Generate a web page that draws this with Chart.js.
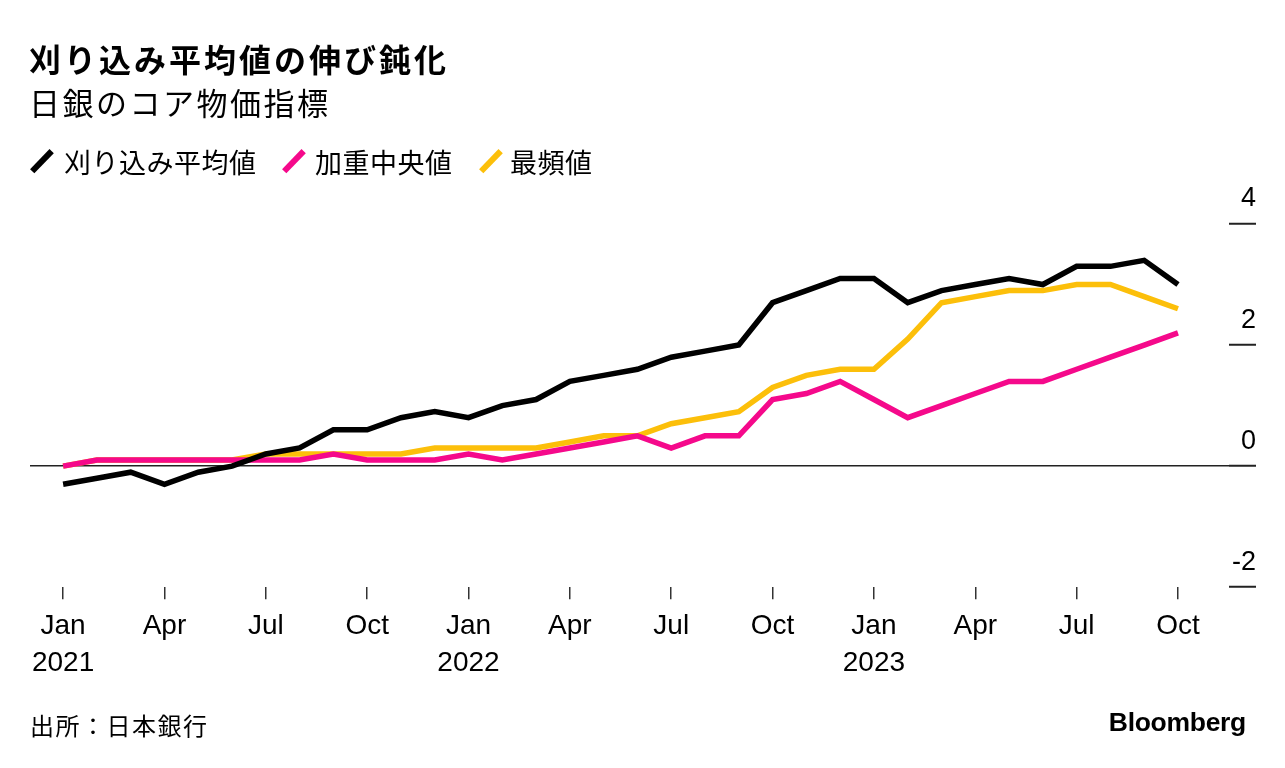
<!DOCTYPE html>
<html lang="ja">
<head>
<meta charset="utf-8">
<title>刈り込み平均値の伸び鈍化</title>
<script src="https://cdn.jsdelivr.net/npm/chart.js@4/dist/chart.umd.min.js"></script>
<style>
  html, body { margin: 0; padding: 0; background: #fff; overflow: hidden; }
  body { width: 1285px; height: 768px; position: relative; font-family: "Noto Sans CJK JP", sans-serif; color: #000; }
  #chart { position: absolute; left: 0; top: 0; }
  .txt { position: absolute; line-height: 1; white-space: nowrap; }
  .title { left: 29px; top: 42px; font-size: 32px; font-weight: bold; letter-spacing: 3px; }
  .subtitle { left: 29px; top: 86px; font-size: 31px; letter-spacing: 2.5px; }
  .legend { top: 148px; font-size: 27px; letter-spacing: 0.5px; }
  .mark { position: absolute; top: 147px; width: 5.5px; height: 28px; transform: rotate(44deg); }
  .source { left: 30px; top: 713px; font-size: 24px; letter-spacing: 1.5px; }
  .brand { right: 39px; top: 709px; font-family: "Liberation Sans", Arial, sans-serif; font-weight: bold; font-size: 26.5px; letter-spacing: -0.3px; }
</style>
</head>
<body>
<canvas id="chart" width="1285" height="768"></canvas>
<div class="txt title">刈り込み平均値の伸び鈍化</div>
<div class="txt subtitle">日銀のコア物価指標</div>
<div id="legend"></div>
<div class="txt source">出所：日本銀行</div>
<div class="txt brand">Bloomberg</div>
<script>
// months shown on the x axis, Jan 2021 - Oct 2023
const categories = [
  "2021-01", "2021-02", "2021-03", "2021-04", "2021-05", "2021-06",
  "2021-07", "2021-08", "2021-09", "2021-10", "2021-11", "2021-12",
  "2022-01", "2022-02", "2022-03", "2022-04", "2022-05", "2022-06",
  "2022-07", "2022-08", "2022-09", "2022-10", "2022-11", "2022-12",
  "2023-01", "2023-02", "2023-03", "2023-04", "2023-05", "2023-06",
  "2023-07", "2023-08", "2023-09", "2023-10"
];
const monthNames = ["Jan", "Feb", "Mar", "Apr", "May", "Jun", "Jul", "Aug", "Sep", "Oct", "Nov", "Dec"];
const tickIndexes = [0, 3, 6, 9, 12, 15, 18, 21, 24, 27, 30, 33];
const yTicks = [-2, 0, 2, 4];

const seriesNames = ["刈り込み平均値", "加重中央値", "最頻値"];
const seriesColors = ["#000000", "#f5098b", "#fcbf0a"];

// 刈り込み平均値
const trimmedMean = [-0.3, -0.2, -0.1, -0.3, -0.1, 0.0, 0.2, 0.3, 0.6, 0.6, 0.8, 0.9,
  0.8, 1.0, 1.1, 1.4, 1.5, 1.6, 1.8, 1.9, 2.0, 2.7, 2.9, 3.1,
  3.1, 2.7, 2.9, 3.0, 3.1, 3.0, 3.3, 3.3, 3.4, 3.0];
// 加重中央値
const weightedMedian = [0.0, 0.1, 0.1, 0.1, 0.1, 0.1, 0.1, 0.1, 0.2, 0.1, 0.1, 0.1,
  0.2, 0.1, 0.2, 0.3, 0.4, 0.5, 0.3, 0.5, 0.5, 1.1, 1.2, 1.4,
  1.1, 0.8, 1.0, 1.2, 1.4, 1.4, 1.6, 1.8, 2.0, 2.2];
// 最頻値
const mode = [0.0, 0.1, 0.1, 0.1, 0.1, 0.1, 0.2, 0.2, 0.2, 0.2, 0.2, 0.3,
  0.3, 0.3, 0.3, 0.4, 0.5, 0.5, 0.7, 0.8, 0.9, 1.3, 1.5, 1.6,
  1.6, 2.1, 2.7, 2.8, 2.9, 2.9, 3.0, 3.0, 2.8, 2.6];

const latin = '"Liberation Sans", "Noto Sans CJK JP", sans-serif';

// legend (html)
const legendLeft = [[39, 64], [290.5, 315], [488, 510]];
const legendEl = document.getElementById("legend");
seriesNames.forEach(function (name, i) {
  const m = document.createElement("div");
  m.className = "mark";
  m.style.left = legendLeft[i][0] + "px";
  m.style.background = seriesColors[i];
  legendEl.appendChild(m);
  const t = document.createElement("div");
  t.className = "txt legend";
  t.style.left = legendLeft[i][1] + "px";
  t.textContent = name;
  legendEl.appendChild(t);
});

function toPoints(values) {
  return values.map((v, i) => ({ x: i, y: v }));
}

const ctx = document.getElementById("chart").getContext("2d");
new Chart(ctx, {
  type: "line",
  data: {
    datasets: [trimmedMean, weightedMedian, mode].map((values, i) => ({
      label: seriesNames[i],
      data: toPoints(values),
      borderColor: seriesColors[i],
      backgroundColor: seriesColors[i],
      borderWidth: 5.5,
      pointRadius: 0,
      tension: 0,
      fill: false,
    })),
  },
  options: {
    responsive: false,
    animation: false,
    devicePixelRatio: 1,
    layout: { padding: { left: 30, right: 29, top: 224, bottom: 78 } },
    plugins: {
      legend: { display: false },
      title: { display: false },
      tooltip: { enabled: false },
    },
    scales: {
      x: {
        type: "linear",
        min: -0.98,
        max: 34.51,
        afterBuildTicks: function (scale) {
          scale.ticks = tickIndexes.map(v => ({ value: v }));
        },
        ticks: {
          autoSkip: false,
          maxRotation: 0,
          padding: 9,
          color: "#000",
          font: { family: latin, size: 28, lineHeight: 1.3 },
          callback: function (value) {
            const parts = categories[value].split("-");
            const name = monthNames[Number(parts[1]) - 1];
            return name === "Jan" ? [name, parts[0]] : name;
          },
        },
        grid: { drawOnChartArea: false, drawTicks: true, tickLength: 12, color: "#333", lineWidth: 1.5 },
        border: { display: false },
      },
      y: {
        position: "right",
        min: yTicks[0],
        max: yTicks[yTicks.length - 1],
        afterBuildTicks: function (scale) {
          scale.ticks = yTicks.map(v => ({ value: v }));
        },
        afterFit: function (scale) {
          scale.width = 27;
        },
        ticks: {
          mirror: true,
          padding: 27,
          labelOffset: -25,
          color: "#000",
          font: { family: latin, size: 27 },
        },
        grid: {
          color: c => (c.tick && c.tick.value === 0 ? "#222" : "rgba(0,0,0,0)"),
          tickColor: "#222",
          lineWidth: 1.5,
          tickWidth: 2,
          tickLength: 27,
        },
        border: { display: false },
      },
    },
  },
});
</script>
</body>
</html>
